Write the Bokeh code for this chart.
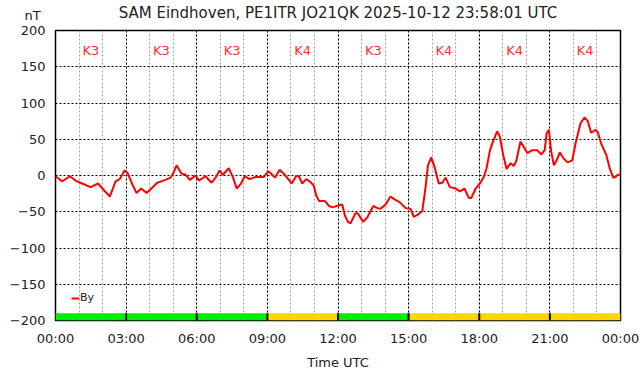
from bokeh.plotting import figure
from bokeh.models import (FixedTicker, Range1d, Title, Legend, LegendItem,
                          ColumnDataSource)
from bokeh.core.properties import value
from bokeh.embed import file_html
from bokeh.resources import INLINE

FONT = "DejaVu Sans"

title_text = "SAM Eindhoven, PE1ITR JO21QK 2025-10-12 23:58:01 UTC"
unit_text = "nT"

hours = [0.0, 0.28, 0.61, 0.85, 1.13, 1.49, 1.81, 2.05, 2.31, 2.55, 2.73, 2.93,
         3.07, 3.26, 3.44, 3.64, 3.87, 4.04, 4.32, 4.67, 4.89, 5.0, 5.14, 5.34,
         5.52, 5.71, 5.95, 6.09, 6.37, 6.63, 6.8, 6.97, 7.11, 7.36, 7.53, 7.7,
         7.86, 8.04, 8.24, 8.5, 8.85, 9.04, 9.18, 9.32, 9.52, 9.74, 10.03, 10.22,
         10.34, 10.48, 10.65, 10.83, 10.97, 11.08, 11.19, 11.44, 11.61, 11.78,
         12.03, 12.18, 12.29, 12.42, 12.53, 12.74, 12.84, 13.07, 13.24, 13.5,
         13.67, 13.81, 14.02, 14.23, 14.4, 14.63, 14.87, 15.08, 15.22, 15.39,
         15.58, 15.72, 15.82, 15.96, 16.1, 16.28, 16.43, 16.57, 16.75, 17.0,
         17.18, 17.37, 17.56, 17.66, 17.85, 18.05, 18.19, 18.31, 18.45, 18.55,
         18.76, 18.87, 19.02, 19.16, 19.33, 19.47, 19.58, 19.75, 19.9, 20.04,
         20.25, 20.46, 20.64, 20.78, 20.86, 20.96, 21.06, 21.17, 21.29, 21.42,
         21.57, 21.76, 21.95, 22.09, 22.3, 22.47, 22.61, 22.75, 22.94, 23.03,
         23.18, 23.4, 23.55, 23.69, 23.79, 23.89, 24.0]
by_nt = [-1, -8, -1, -7, -11, -16, -11, -20, -29, -8, -5, 7,
         3, -12, -24, -18, -24, -19, -10, -6, -3, 3, 14, 3,
         1, -6, 0, -7, -1, -10, -3, 7, 1, 10, -2, -18,
         -12, -1, -5, -2, -2, 6, 2, -3, 8, 1, -11, -1,
         -1, -11, -5, -9, -14, -28, -35, -35, -42, -44,
         -41, -40, -55, -64, -66, -52, -52, -64, -58, -42,
         -45, -46, -40, -29, -33, -37, -45, -46, -57, -54,
         -49, -16, 14, 25, 12, -11, -10, -3, -16, -18,
         -22, -18, -31, -31, -18, -10, -2, 10, 34, 44,
         61, 54, 28, 9, 17, 13, 21, 47, 39, 31,
         35, 35, 29, 35, 58, 63, 32, 14, 21, 32,
         24, 18, 21, 44, 72, 80, 75, 59, 63, 60,
         44, 28, 9, -3, -2, 1, 1]

k_start = [0, 3, 6, 9, 12, 15, 18, 21]
k_index = [3, 3, 3, 4, 3, 4, 4, 4]
k_labels = ["K%d" % k for k in k_index]
k_colors = ["#00ee00" if k < 4 else "#ffd700" for k in k_index]

x_ticks = [0, 3, 6, 9, 12, 15, 18, 21, 24]
x_tick_labels = ["00:00", "03:00", "06:00", "09:00", "12:00", "15:00",
                 "18:00", "21:00", "00:00"]
y_ticks = [-200, -150, -100, -50, 0, 50, 100, 150, 200]

p = figure(width=642, height=376, output_backend="svg", toolbar_location=None,
           x_range=Range1d(0, 24), y_range=Range1d(-200, 200),
           min_border_left=55, min_border_right=22, min_border_top=30,
           min_border_bottom=56)

p.title.text = title_text
p.title.align = "center"
p.title.vertical_align = "top"
p.title.text_font = FONT
p.title.text_font_size = "15px"
p.title.text_font_style = "normal"
p.title.text_color = "#222222"
p.title.standoff = -54

# unit label as a second title row
unit_title = Title(text=unit_text, align="left", vertical_align="top",
                   offset=-31, standoff=-45,
                   text_font=FONT, text_font_size="13px",
                   text_font_style="normal", text_color="#222222")
p.add_layout(unit_title, "above")

p.outline_line_color = "black"
p.outline_line_width = 1.5
p.background_fill_color = "white"
p.border_fill_color = "white"

p.xaxis.ticker = FixedTicker(ticks=x_ticks, minor_ticks=list(range(25)))
p.xaxis.major_label_overrides = {t: l for t, l in zip(x_ticks, x_tick_labels)}
p.yaxis.ticker = FixedTicker(ticks=y_ticks)
for ax in (p.xaxis, p.yaxis):
    ax.major_tick_in = 0
    ax.major_tick_out = 0
    ax.minor_tick_in = 0
    ax.minor_tick_out = 0
    ax.axis_line_color = None
    ax.major_label_text_font = FONT
    ax.major_label_text_font_size = "13px"
    ax.major_label_text_color = "#222222"
    ax.major_label_standoff = 10
p.xaxis.axis_label = "Time UTC"
p.xaxis.axis_label_text_font = FONT
p.xaxis.axis_label_text_font_size = "13px"
p.xaxis.axis_label_text_font_style = "normal"
p.xaxis.axis_label_text_color = "#222222"
p.xaxis.axis_label_standoff = 6

p.xgrid.grid_line_color = "black"
p.xgrid.grid_line_dash = "2 2"
p.xgrid.grid_line_width = 1
p.xgrid.minor_grid_line_color = "#a0a0a0"
p.xgrid.minor_grid_line_dash = "2 2"
p.ygrid.grid_line_color = "black"
p.ygrid.grid_line_dash = "2 2"

# K index strip
strip = ColumnDataSource(dict(left=k_start, right=[s + 3 for s in k_start],
                              color=k_colors))
p.quad(left="left", right="right", bottom=-200, top=-190, fill_color="color",
       line_color=None, source=strip)
p.segment(x0=k_start[1:], x1=k_start[1:], y0=[-200] * 7, y1=[-190] * 7,
          line_color="black", line_width=2)

# K labels
p.text(x=[s + 1.5 for s in k_start], y=[172] * len(k_start), text=k_labels,
       text_align="center", text_baseline="middle", text_color="#ff3030",
       text_font=value(FONT), text_font_size="13px")

line = p.line(hours, by_nt, line_color="#ff0000", line_width=2)

legend = Legend(items=[LegendItem(label="By", renderers=[line])],
                location=(16, 16), glyph_width=8, glyph_height=10,
                label_standoff=1, padding=0, spacing=0, margin=0,
                border_line_color=None, background_fill_alpha=0,
                label_text_font=FONT, label_text_font_size="11px",
                label_text_color="#222222")
p.add_layout(legend, "center")

open("out.html", "w").write(file_html(p, INLINE))
